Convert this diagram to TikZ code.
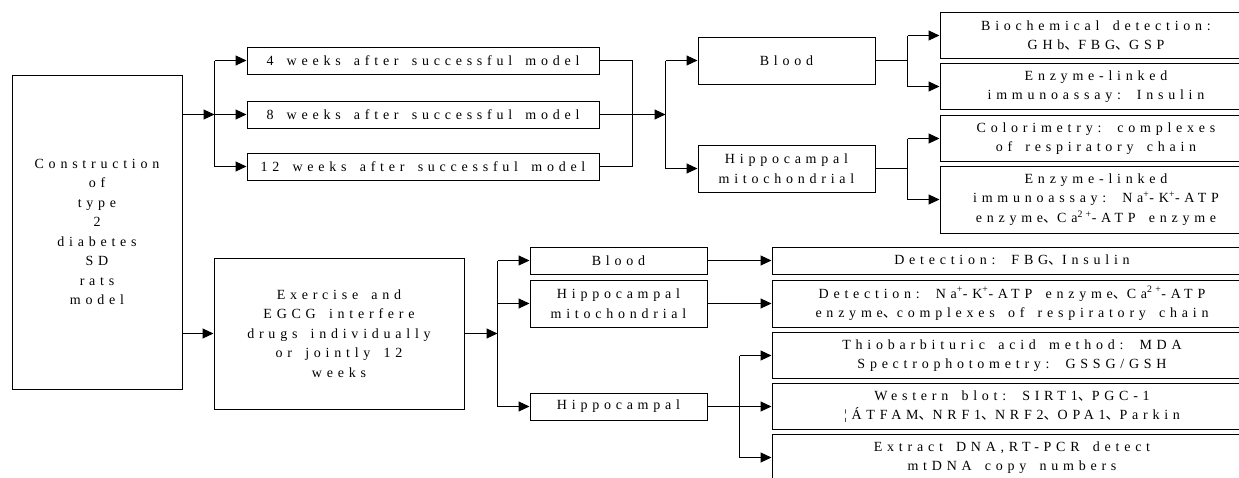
\documentclass[tikz,border=0pt]{standalone}
\usepackage{fontspec}
\setmainfont{Liberation Serif}[LetterSpace=34,WordSpace=1.6]
\newfontfamily\cjk{Noto Sans CJK SC}
\newcommand{\dun}{{\cjk 、}}
\usetikzlibrary{arrows.meta}
\begin{document}
\begin{tikzpicture}[x=1pt,y=-1pt,
  box/.style={draw, line width=1pt, inner sep=0pt, align=center,
    font=\fontsize{14}{19.5}\selectfont},
  arr/.style={-{Triangle[length=11pt,width=10pt]}, line width=1pt},
  ln/.style={line width=1pt}]
\useasboundingbox (0,0) rectangle (1239,477);
\clip (0,0) rectangle (1239,477);
% nodes
\node[box, minimum width=170, minimum height=314] (constr) at (97,232)
  {Construction\\of\\type\\2\\diabetes\\SD\\rats\\model};
\node[box, minimum width=352, minimum height=27] (w4) at (423,60.5) {4 weeks after successful model};
\node[box, minimum width=352, minimum height=27] (w8) at (423,114.5) {8 weeks after successful model};
\node[box, minimum width=352, minimum height=27] (w12) at (423,166.5) {12 weeks after successful model};
\node[box, minimum width=177, minimum height=47] (blood1) at (786.5,60.5) {Blood};
\node[box, minimum width=177, minimum height=47] (hm1) at (786.5,168.5) {Hippocampal\\mitochondrial};
\node[box, minimum width=312, minimum height=46] (bio) at (1096,35.5) {Biochemical detection:\\GHb\dun FBG\dun GSP};
\node[box, minimum width=312, minimum height=46] (el1) at (1096,86.5) {Enzyme-linked\\immunoassay: Insulin};
\node[box, minimum width=312, minimum height=46] (col) at (1096,138.5) {Colorimetry: complexes\\of respiratory chain};
\node[box, minimum width=312, minimum height=67] (el2) at (1096,199.5)
  {Enzyme-linked\\immunoassay: Na\textsuperscript{+}-K\textsuperscript{+}-ATP\\enzyme\dun Ca\textsuperscript{2+}-ATP enzyme};
\node[box, minimum width=250, minimum height=151] (exer) at (339,333.5)
  {Exercise and\\EGCG interfere\\drugs individually\\or jointly 12\\weeks};
\node[box, minimum width=177, minimum height=27] (b2) at (618.5,260.5) {Blood};
\node[box, minimum width=177, minimum height=47] (hm2) at (618.5,303.5) {Hippocampal\\mitochondrial};
\node[box, minimum width=177, minimum height=27] (hip) at (618.5,406.5) {Hippocampal};
\node[box, minimum width=480, minimum height=27] (det1) at (1012,260.5) {Detection: FBG\dun Insulin};
\node[box, minimum width=480, minimum height=47] (det2) at (1012,303.5)
  {Detection: Na\textsuperscript{+}-K\textsuperscript{+}-ATP enzyme\dun Ca\textsuperscript{2+}-ATP\\enzyme\dun complexes of respiratory chain};
\node[box, minimum width=480, minimum height=46] (thio) at (1012,355.5)
  {Thiobarbituric acid method: MDA\\Spectrophotometry: GSSG/GSH};
\node[box, minimum width=480, minimum height=46] (west) at (1012,406.5)
  {Western blot: SIRT1\dun PGC-1\\¦ÁTFAM\dun NRF1\dun NRF2\dun OPA1\dun Parkin};
\node[box, minimum width=480, minimum height=46] (extr) at (1012,457.5)
  {Extract DNA,RT-PCR detect\\mtDNA copy numbers};
% split coordinates
\coordinate (s1) at (214.5,114.5);
\coordinate (j1) at (632.5,114.5);
\coordinate (s2) at (665.5,114.5);
\coordinate (s4) at (907.5,60.5);
\coordinate (s5) at (907.5,168.5);
\coordinate (s3) at (497.5,333.5);
\coordinate (s6) at (739.5,406.5);
% top part
\draw[arr] (constr.east |- s1) -- (s1);
\draw[ln] (s1 |- w4) -- (s1 |- w12);
\draw[arr] (s1 |- w4) -- (w4.west);
\draw[arr] (s1) -- (w8.west);
\draw[arr] (s1 |- w12) -- (w12.west);
\draw[ln] (w4.east) -- (w4.east -| j1) -- (w12.east -| j1) -- (w12.east);
\draw[arr] (w8.east) -- (s2);
\draw[ln] (s2 |- blood1) -- (s2 |- hm1);
\draw[arr] (s2 |- blood1) -- (blood1.west);
\draw[arr] (s2 |- hm1) -- (hm1.west);
\draw[ln] (blood1.east) -- (s4);
\draw[ln] (s4 |- bio) -- (s4 |- el1);
\draw[arr] (s4 |- bio) -- (bio.west);
\draw[arr] (s4 |- el1) -- (el1.west);
\draw[ln] (hm1.east) -- (s5);
\draw[ln] (s5 |- col) -- (s5 |- el2);
\draw[arr] (s5 |- col) -- (col.west);
\draw[arr] (s5 |- el2) -- (el2.west);
% bottom part
\draw[arr] (constr.east |- exer) -- (exer.west);
\draw[arr] (exer.east) -- (s3);
\draw[ln] (s3 |- b2) -- (s3 |- hip);
\draw[arr] (s3 |- b2) -- (b2.west);
\draw[arr] (s3 |- hm2) -- (hm2.west);
\draw[arr] (s3 |- hip) -- (hip.west);
\draw[arr] (b2.east) -- (det1.west);
\draw[arr] (hm2.east) -- (det2.west);
\draw[arr] (hip.east) -- (west.west);
\draw[ln] (s6 |- thio) -- (s6 |- extr);
\draw[arr] (s6 |- thio) -- (thio.west);
\draw[arr] (s6 |- extr) -- (extr.west);
\end{tikzpicture}
\end{document}
